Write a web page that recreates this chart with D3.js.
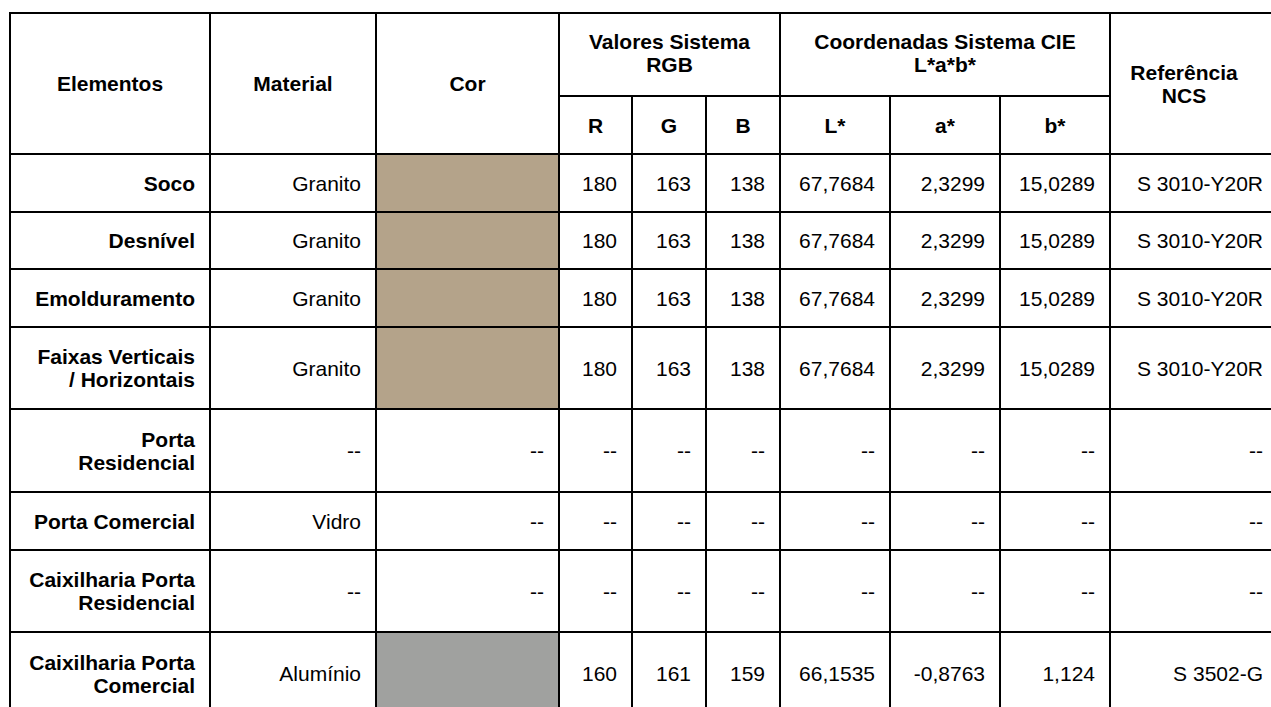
<!DOCTYPE html>
<html>
<head>
<meta charset="utf-8">
<script src="https://cdn.jsdelivr.net/npm/d3@7/dist/d3.min.js"></script>
<style>
  html, body { margin: 0; padding: 0; background: #ffffff; }
  svg { display: block; }
  text { font-family: "Liberation Sans", Arial, sans-serif; font-size: 21px; fill: #000; }
</style>
</head>
<body>
<svg id="chart" width="1271" height="707"></svg>
<script>
// ---- data ----
const elementos = [
  "Soco",
  "Desnível",
  "Emolduramento",
  "Faixas Verticais\n/ Horizontais",
  "Porta\nResidencial",
  "Porta Comercial",
  "Caixilharia Porta\nResidencial",
  "Caixilharia Porta\nComercial"
];
const material = ["Granito", "Granito", "Granito", "Granito", null, "Vidro", null, "Alumínio"];
const rValues = [180, 180, 180, 180, null, null, null, 160];
const gValues = [163, 163, 163, 163, null, null, null, 161];
const bValues = [138, 138, 138, 138, null, null, null, 159];
const lStar = [67.7684, 67.7684, 67.7684, 67.7684, null, null, null, 66.1535];
const aStar = [2.3299, 2.3299, 2.3299, 2.3299, null, null, null, -0.8763];
const bStar = [15.0289, 15.0289, 15.0289, 15.0289, null, null, null, 1.124];
const ncsRef = ["S 3010-Y20R", "S 3010-Y20R", "S 3010-Y20R", "S 3010-Y20R", null, null, null, "S 3502-G"];

const headerTop = ["Elementos", "Material", "Cor", "Valores Sistema\nRGB", "Coordenadas Sistema CIE\nL*a*b*", "Referência\nNCS"];
const headerSub = ["R", "G", "B", "L*", "a*", "b*"];

// ---- layout ----
const svg = d3.select("#chart");
const colKeys = ["elem", "mat", "cor", "r", "g", "b", "l", "a", "bs", "ncs"];
const colEdges = [10, 210, 376, 559, 632, 706, 780, 890, 1000, 1110, 1278];
const xLeft = d3.scaleOrdinal(colKeys, colEdges.slice(0, -1));
const xRight = d3.scaleOrdinal(colKeys, colEdges.slice(1));

const tableTop = 13, subTop = 96, bodyTop = 154;
const lineH = 23, padR = 15;
const nLines = s => String(s).split("\n").length;
const rowHeights = elementos.map(e => nLines(e) === 1 ? 57.6 : 82.6);
const rowTops = [];
rowHeights.reduce((acc, h) => { rowTops.push(acc); return acc + h; }, bodyTop);
const tableBottom = bodyTop + d3.sum(rowHeights);
const idx = d3.range(elementos.length);
const yTop = d3.scaleOrdinal(idx, rowTops.map(Math.round));
const yBot = d3.scaleOrdinal(idx, rowTops.map((t, i) => Math.round(t + rowHeights[i])));

const fmt = v => v == null ? "--" : String(v).replace(".", ",");

function multiText(g, str, x, cy, anchor, bold) {
  const lines = String(str).split("\n");
  const first = cy + 7.5 - (lines.length - 1) * lineH / 2;
  const t = g.append("text")
    .attr("text-anchor", anchor)
    .attr("font-weight", bold ? "bold" : "normal");
  lines.forEach((ln, i) => {
    t.append("tspan").attr("x", x).attr("y", first + i * lineH).text(ln);
  });
}

// ---- colour swatches ----
const sw = svg.append("g");
idx.forEach(i => {
  if (rValues[i] != null) {
    sw.append("rect")
      .attr("x", xLeft("cor")).attr("y", yTop(i))
      .attr("width", xRight("cor") - xLeft("cor"))
      .attr("height", yBot(i) - yTop(i))
      .attr("fill", d3.rgb(rValues[i], gValues[i], bValues[i]).formatHex());
  }
});

// ---- header text ----
const hg = svg.append("g");
const mid = (a, b) => (a + b) / 2;
multiText(hg, headerTop[0], mid(xLeft("elem"), xRight("elem")), mid(tableTop, bodyTop), "middle", true);
multiText(hg, headerTop[1], mid(xLeft("mat"), xRight("mat")), mid(tableTop, bodyTop), "middle", true);
multiText(hg, headerTop[2], mid(xLeft("cor"), xRight("cor")), mid(tableTop, bodyTop), "middle", true);
multiText(hg, headerTop[3], mid(xLeft("r"), xRight("b")), mid(tableTop, subTop) - 2, "middle", true);
multiText(hg, headerTop[4], mid(xLeft("l"), xRight("bs")), mid(tableTop, subTop) - 2, "middle", true);
multiText(hg, headerTop[5], mid(xLeft("ncs"), xRight("ncs")) - 10, mid(tableTop, bodyTop), "middle", true);
["r", "g", "b", "l", "a", "bs"].forEach((k, j) => {
  multiText(hg, headerSub[j], mid(xLeft(k), xRight(k)), mid(subTop, bodyTop), "middle", true);
});

// ---- body text ----
const bg = svg.append("g");
idx.forEach(i => {
  const cy = mid(yTop(i), yBot(i));
  multiText(bg, elementos[i], xRight("elem") - padR, cy, "end", true);
  multiText(bg, fmt(material[i]), xRight("mat") - padR, cy, "end", false);
  if (rValues[i] == null) multiText(bg, "--", xRight("cor") - padR, cy, "end", false);
  const vals = { r: rValues[i], g: gValues[i], b: bValues[i], l: lStar[i], a: aStar[i], bs: bStar[i], ncs: ncsRef[i] };
  Object.keys(vals).forEach(k => {
    multiText(bg, fmt(vals[k]), xRight(k) - padR, cy, "end", false);
  });
});

// ---- grid lines ----
const lg = svg.append("g").attr("stroke", "#000").attr("stroke-width", 2).attr("stroke-linecap", "square");
const line = (x1, y1, x2, y2) => lg.append("line").attr("x1", x1).attr("y1", y1).attr("x2", x2).attr("y2", y2);
const right = colEdges[colEdges.length - 1];
line(colEdges[0], tableTop, right, tableTop);
line(xLeft("r"), subTop, xRight("bs"), subTop);
line(colEdges[0], bodyTop, right, bodyTop);
idx.forEach(i => line(colEdges[0], yBot(i), right, yBot(i)));
["elem", "mat", "cor", "r", "l", "ncs"].forEach(k => line(xLeft(k), tableTop, xLeft(k), tableBottom));
line(right, tableTop, right, tableBottom);
["g", "b", "a", "bs"].forEach(k => line(xLeft(k), subTop, xLeft(k), tableBottom));
</script>
</body>
</html>
